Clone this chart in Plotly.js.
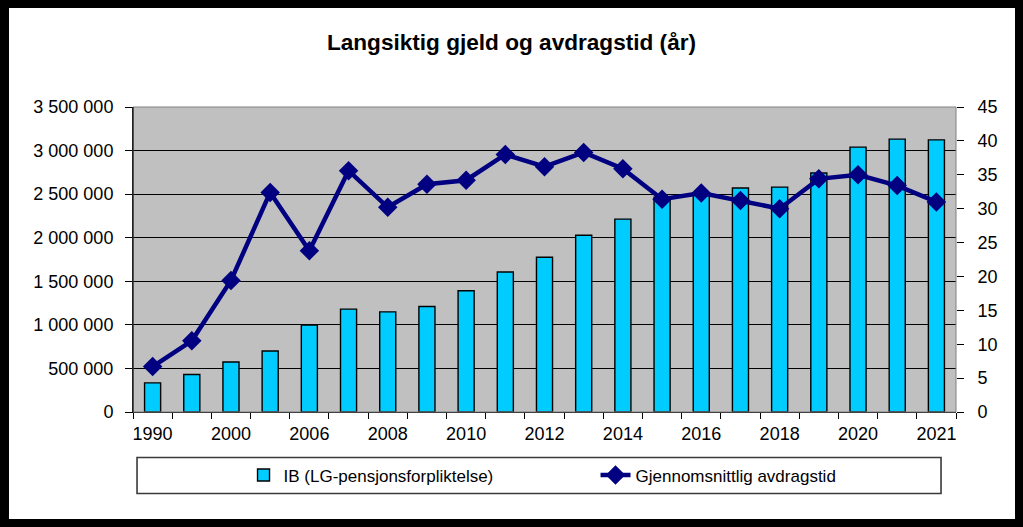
<!DOCTYPE html>
<html>
<head>
<meta charset="utf-8">
<script src="https://cdn.plot.ly/plotly-3.0.1.min.js"></script>
<style>
  html, body { margin: 0; padding: 0; background: #000; width: 1023px; height: 527px; overflow: hidden; }
  #chart { position: absolute; left: 9px; top: 8px; width: 1006px; height: 511px; background: #fff; }
</style>
</head>
<body>
<div id="chart"></div>
<script>
// Categories (index 19 is an unlabeled category between 2020 and 2021)
const categories = ['1990','1995','2000','2005','2006','2007','2008','2009','2010','2011','2012',
                    '2013','2014','2015','2016','2017','2018','2019','2020','2021 B','2021'];
// IB (LG-pensjonsforpliktelse), left axis
const ibValues = [334000, 431000, 573000, 700000, 999000, 1180000, 1149000, 1210000, 1391000, 1607000, 1775000,
                  2028000, 2213000, 2465000, 2517000, 2570000, 2581000, 2743000, 3039000, 3131000, 3123000];
// Gjennomsnittlig avdragstid (år), right axis
const avdragstid = [6.7, 10.5, 19.4, 32.4, 23.8, 35.6, 30.2, 33.6, 34.2, 38.0, 36.2,
                    38.3, 35.9, 31.4, 32.3, 31.2, 30.0, 34.4, 35.0, 33.4, 31.0];
const tickLabels = categories.filter((c, i) => i % 2 === 0);
const rightTicks = [0, 5, 10, 15, 20, 25, 30, 35, 40, 45];

const FONT = '"Liberation Sans", Arial, sans-serif';
const catRange = [-0.5, categories.length - 0.5];

const traces = [
  {
    type: 'bar',
    name: 'IB (LG-pensjonsforpliktelse)',
    x: categories,
    y: ibValues,
    width: 0.41,
    marker: { color: '#00CCFF', line: { color: '#000000', width: 1.4 } },
    hoverinfo: 'x+y'
  },
  {
    type: 'scatter',
    mode: 'lines+markers',
    name: 'Gjennomsnittlig avdragstid',
    x: categories,
    y: avdragstid,
    xaxis: 'x2',
    yaxis: 'y2',
    line: { color: '#000080', width: 4.5 },
    marker: { symbol: 'diamond', size: 15, color: '#000080' }
  }
];

const layout = {
  width: 1006,
  height: 511,
  margin: { l: 124, r: 59, t: 99, b: 107, pad: 0 },
  paper_bgcolor: '#ffffff',
  plot_bgcolor: '#C0C0C0',
  separators: ', ',
  font: { family: FONT, size: 18, color: '#000' },
  showlegend: true,
  title: {
    text: '<b>Langsiktig gjeld og avdragstid (år)</b>',
    font: { family: FONT, size: 22.6, color: '#000' },
    x: 0.4995, xanchor: 'center',
    y: 0.933, yanchor: 'middle', yref: 'container'
  },
  xaxis: {
    type: 'category',
    categoryorder: 'array',
    categoryarray: categories,
    range: catRange,
    tickmode: 'array',
    tickvals: tickLabels,
    ticktext: tickLabels,
    ticks: 'outside',
    ticklen: 5,
    tickcolor: 'rgba(0,0,0,0)',
    showgrid: false,
    zeroline: false,
    showline: true,
    linecolor: '#000',
    linewidth: 1,
    tickfont: { family: FONT, size: 18, color: '#000' },
    fixedrange: true
  },
  xaxis2: {
    type: 'category',
    categoryorder: 'array',
    categoryarray: categories,
    overlaying: 'x',
    anchor: 'y',
    side: 'bottom',
    range: catRange,
    tickmode: 'array',
    tickvals: categories,
    ticktext: categories.map(() => ''),
    tickson: 'boundaries',
    ticks: 'outside',
    ticklen: 6,
    tickcolor: '#000',
    showticklabels: false,
    showgrid: false,
    zeroline: false,
    showline: false,
    fixedrange: true
  },
  yaxis: {
    range: [0, 3500000],
    tickmode: 'linear',
    tick0: 0,
    dtick: 500000,
    tickformat: ',d',
    ticks: 'outside',
    ticklen: 7,
    tickcolor: '#000',
    ticklabelstandoff: 8,
    showgrid: true,
    gridcolor: '#000',
    gridwidth: 1,
    zeroline: false,
    showline: true,
    linecolor: '#000',
    linewidth: 1,
    tickfont: { family: FONT, size: 18, color: '#000' },
    fixedrange: true
  },
  yaxis2: {
    overlaying: 'y',
    anchor: 'x2',
    side: 'right',
    range: [0, 45],
    tickmode: 'array',
    tickvals: rightTicks,
    ticktext: rightTicks.map(v => '\u00a0\u00a0' + v),
    ticks: 'outside',
    ticklen: 7,
    tickcolor: '#000',
    showgrid: false,
    zeroline: false,
    showline: false,
    tickfont: { family: FONT, size: 18, color: '#000' },
    fixedrange: true
  },
  legend: {
    orientation: 'h',
    x: 0.1343, xanchor: 'left',
    y: -0.208, yanchor: 'middle',
    bgcolor: 'rgba(0,0,0,0)',
    borderwidth: 0,
    font: { family: FONT, size: 17, color: '#000' },
    itemwidth: 30,
    entrywidthmode: 'pixels',
    entrywidth: 307,
    traceorder: 'normal'
  },
  shapes: [
    { type: 'rect', xref: 'paper', yref: 'paper', x0: 0, x1: 1, y0: 0, y1: 1,
      line: { color: '#808080', width: 1 }, fillcolor: 'rgba(0,0,0,0)', layer: 'above' },
    { type: 'line', xref: 'paper', yref: 'paper', x0: 0, x1: 0, y0: 0, y1: 1,
      line: { color: '#000', width: 1 }, layer: 'above' },
    { type: 'rect', xref: 'paper', yref: 'paper', x0: 0.0049, x1: 0.9818, y0: -0.149, y1: -0.267,
      line: { color: '#3a3a3a', width: 1.6 }, fillcolor: 'rgba(0,0,0,0)', layer: 'above' }
  ]
};

Plotly.newPlot('chart', traces, layout, { displayModeBar: false, staticPlot: true });
</script>
</body>
</html>
